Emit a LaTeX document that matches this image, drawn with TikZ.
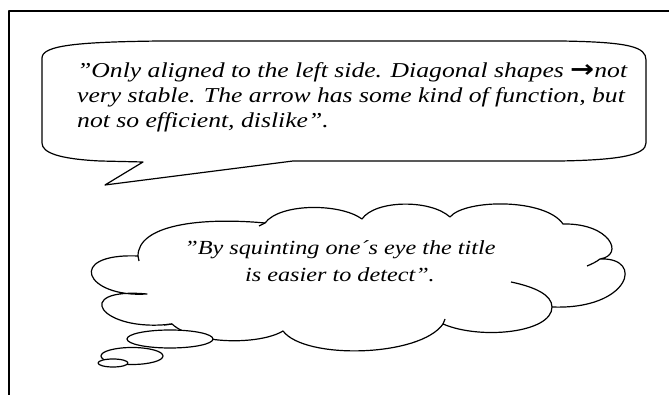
\documentclass[tikz,border=0pt]{standalone}
\usepackage{fontspec}
\setmainfont{Liberation Serif}
\newfontfamily\motsfont[FakeStretch=1.21]{Liberation Serif}
\newfontfamily\flechefont[FakeStretch=1.2]{DejaVu Sans}
\begin{document}
\begin{tikzpicture}[x=1pt,y=1pt,line join=round]
\tikzset{forme/.style={draw=black,line width=1.2pt,fill=white},
  bulle/.style={inner sep=0pt,font=\motsfont\itshape\fontsize{21.2}{25}\selectfont,align=left},
  nuage/.style={inner sep=0pt,font=\motsfont\itshape\fontsize{20}{27}\selectfont,align=center}}
\useasboundingbox (0,0) rectangle (669,395);
\draw[line width=2pt] (9,0)--(9,384)--(669,384); % le cadre
% la bulle avec sa pointe
\draw[forme] (42,337) .. controls (42,350) and (80,353) .. (160,354) -- (560,354)
  .. controls (630,353) and (646,348) .. (646,335) -- (646,252)
  .. controls (646,240) and (620,235) .. (560,234) -- (293,234) -- (105,210) -- (143,233)
  -- (100,234) .. controls (60,236) and (42,242) .. (42,252) -- cycle;
\node[bulle,anchor=base west] (avis) at (77,267) {”Only aligned to the left side. Diagonal shapes {\flechefont\bfseries\upshape\fontsize{24}{25}\selectfont →}not\\very stable. The arrow has some kind of function, but\\not so efficient, dislike”.};
% le nuage
\draw[forme] (138,139) .. controls (138,170) and (200,178) .. (265,172)
  .. controls (280,192) and (340,192) .. (362,176)
  .. controls (375,195) and (430,196) .. (450,178)
  .. controls (465,196) and (545,197) .. (563,171)
  .. controls (610,172) and (625,140) .. (600,136)
  .. controls (645,138) and (630,85) .. (552,88)
  .. controls (552,62) and (480,55) .. (443,71)
  .. controls (420,38) and (305,35) .. (283,64)
  .. controls (260,50) and (195,50) .. (172,71)
  .. controls (100,62) and (70,108) .. (147,101)
  .. controls (85,97) and (65,142) .. (138,139) -- cycle;
\draw[line width=1.2pt] (511,113) .. controls (535,108) and (552,100) .. (552,88); % petits arcs
\draw[line width=1.2pt] (600,136) .. controls (596,133) and (592,131) .. (587,129);
\draw[line width=1.2pt] (138,139) -- (139,134);
\draw[line width=1.2pt] (265,172) -- (259,169);
\draw[line width=1.2pt] (443,71) -- (445,76);
\draw[line width=1.2pt] (172,71) -- (164,70);
\node[nuage,anchor=base] (titre) at (340,113) {”By squinting one´s eye the title\\is easier to detect”.};
% les petites bulles
\draw[forme] (170,56) ellipse [x radius=43,y radius=9];
\draw[forme] (132,39) ellipse [x radius=31,y radius=8.5];
\draw[forme] (113,32) ellipse [x radius=15,y radius=4];
\end{tikzpicture}
\end{document}
